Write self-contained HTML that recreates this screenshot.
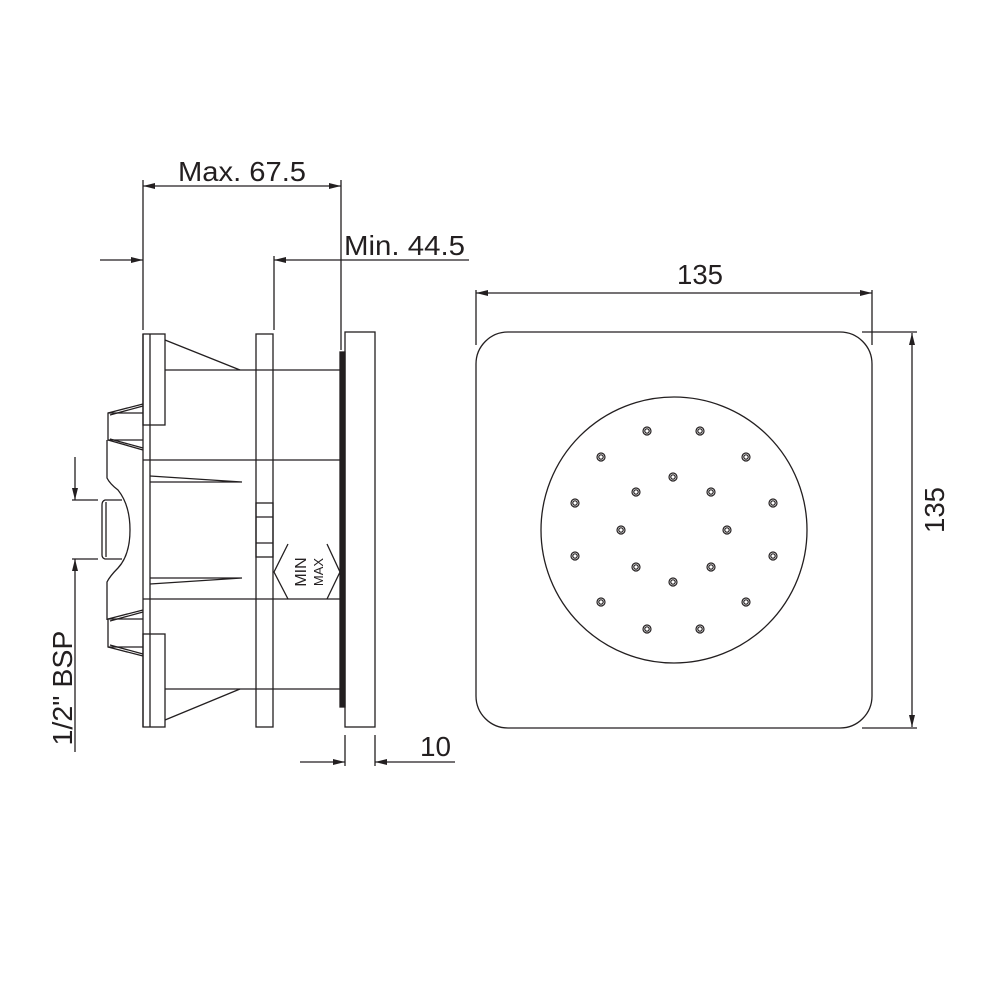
<!DOCTYPE html>
<html><head><meta charset="utf-8"><style>
html,body{margin:0;padding:0;background:#fff;}
svg{display:block;}
text{font-family:"Liberation Sans",sans-serif;fill:#231f20;}
</style></head><body>
<svg width="1000" height="1000" viewBox="0 0 1000 1000" xmlns="http://www.w3.org/2000/svg">
<defs>
<marker id="a" viewBox="0 0 12 6" refX="12" refY="3" markerWidth="12" markerHeight="6" orient="auto" markerUnits="userSpaceOnUse"><path d="M0,0 L12,3 L0,6 Z" fill="#231f20"/></marker>
</defs>
<g stroke="#231f20" stroke-width="1.3" fill="none">
<line x1="143" y1="180" x2="143" y2="330"/>
<line x1="341" y1="180" x2="341" y2="350"/>
<line x1="170" y1="186" x2="143" y2="186" marker-end="url(#a)"/>
<line x1="310" y1="186" x2="341" y2="186" marker-end="url(#a)"/>
<line x1="170" y1="186" x2="310" y2="186"/>
<line x1="100" y1="260" x2="143" y2="260" marker-end="url(#a)"/>
<line x1="274" y1="256" x2="274" y2="330"/>
<line x1="469" y1="260" x2="274" y2="260" marker-end="url(#a)"/>
<line x1="143" y1="334" x2="143" y2="727"/>
<line x1="150" y1="334" x2="150" y2="727"/>
<rect x="143" y="334" width="22" height="91"/>
<rect x="143" y="634" width="22" height="93"/>
<line x1="165" y1="340" x2="240" y2="370"/>
<line x1="165" y1="720" x2="240" y2="689"/>
<line x1="165" y1="370" x2="340" y2="370"/>
<line x1="165" y1="689" x2="340" y2="689"/>
<line x1="143" y1="460" x2="340" y2="460"/>
<line x1="143" y1="599" x2="340" y2="599"/>
<rect x="256" y="334" width="17" height="393"/>
<rect x="256" y="503" width="17" height="54"/>
<line x1="256" y1="517" x2="273" y2="517"/>
<line x1="256" y1="543" x2="273" y2="543"/>
<rect x="340" y="352" width="5" height="355" fill="#231f20"/>
<rect x="345" y="332" width="30" height="395"/>
<path d="M150,476 L242,482 L150,482"/>
<path d="M150,578 L242,578 L150,584"/>
<path d="M288,544 L274,572 L288,599"/>
<path d="M327,544 L340,572 L327,599"/>
<path d="M143,404 L108,413 L108,440 L143,450"/>
<path d="M143,406 L110,415 M143,448 L110,439"/>
<line x1="108" y1="413" x2="143" y2="413"/>
<line x1="108" y1="440" x2="143" y2="440"/>
<path d="M143,610 L108,619 L108,647 L143,656"/>
<path d="M143,612 L110,621 M143,654 L110,645"/>
<line x1="108" y1="619" x2="143" y2="619"/>
<line x1="108" y1="647" x2="143" y2="647"/>
<path d="M107,440 L107,478 Q110,484 118,490 Q130,505 130,530 Q130,555 118,568 Q110,576 107,582 L107,620"/>
<path d="M122,500 L105,500 Q102,501 102,505 L102,555 Q102,558 105,559 L122,559"/>
<line x1="106" y1="502" x2="106" y2="557"/>
<line x1="72" y1="500" x2="98" y2="500"/>
<line x1="72" y1="559" x2="98" y2="559"/>
<line x1="75" y1="457" x2="75" y2="500" marker-end="url(#a)"/>
<line x1="75" y1="752" x2="75" y2="559" marker-end="url(#a)"/>
<line x1="345" y1="735" x2="345" y2="766"/>
<line x1="375" y1="735" x2="375" y2="766"/>
<line x1="300" y1="762" x2="345" y2="762" marker-end="url(#a)"/>
<line x1="455" y1="762" x2="375" y2="762" marker-end="url(#a)"/>
<rect x="476" y="332" width="396" height="396" rx="32" ry="32"/>
<circle cx="674" cy="530" r="133"/>
<line x1="476" y1="290" x2="476" y2="345"/>
<line x1="872" y1="290" x2="872" y2="345"/>
<line x1="674" y1="293" x2="476" y2="293" marker-end="url(#a)"/>
<line x1="674" y1="293" x2="872" y2="293" marker-end="url(#a)"/>
<line x1="862" y1="332" x2="917" y2="332"/>
<line x1="862" y1="728" x2="917" y2="728"/>
<line x1="912" y1="530" x2="912" y2="333" marker-end="url(#a)"/>
<line x1="912" y1="530" x2="912" y2="727" marker-end="url(#a)"/>
</g>
<g stroke="#231f20" fill="none" stroke-width="1.2">
<g>
<circle cx="647" cy="431" r="4"/><circle cx="700" cy="431" r="4"/>
<circle cx="601" cy="457" r="4"/><circle cx="746" cy="457" r="4"/>
<circle cx="673" cy="477" r="4"/>
<circle cx="636" cy="492" r="4"/><circle cx="711" cy="492" r="4"/>
<circle cx="575" cy="503" r="4"/><circle cx="773" cy="503" r="4"/>
<circle cx="621" cy="530" r="4"/><circle cx="727" cy="530" r="4"/>
<circle cx="575" cy="556" r="4"/><circle cx="773" cy="556" r="4"/>
<circle cx="636" cy="567" r="4"/><circle cx="711" cy="567" r="4"/>
<circle cx="673" cy="582" r="4"/>
<circle cx="601" cy="602" r="4"/><circle cx="746" cy="602" r="4"/>
<circle cx="647" cy="629" r="4"/><circle cx="700" cy="629" r="4"/>
</g>
<g>
<circle cx="647" cy="431" r="2.2"/><circle cx="700" cy="431" r="2.2"/>
<circle cx="601" cy="457" r="2.2"/><circle cx="746" cy="457" r="2.2"/>
<circle cx="673" cy="477" r="2.2"/>
<circle cx="636" cy="492" r="2.2"/><circle cx="711" cy="492" r="2.2"/>
<circle cx="575" cy="503" r="2.2"/><circle cx="773" cy="503" r="2.2"/>
<circle cx="621" cy="530" r="2.2"/><circle cx="727" cy="530" r="2.2"/>
<circle cx="575" cy="556" r="2.2"/><circle cx="773" cy="556" r="2.2"/>
<circle cx="636" cy="567" r="2.2"/><circle cx="711" cy="567" r="2.2"/>
<circle cx="673" cy="582" r="2.2"/>
<circle cx="601" cy="602" r="2.2"/><circle cx="746" cy="602" r="2.2"/>
<circle cx="647" cy="629" r="2.2"/><circle cx="700" cy="629" r="2.2"/>
</g>
</g>
<text x="178" y="181" font-size="28" textLength="128" lengthAdjust="spacingAndGlyphs">Max. 67.5</text>
<text x="344" y="255" font-size="28" textLength="121" lengthAdjust="spacingAndGlyphs">Min. 44.5</text>
<text x="677" y="284" font-size="28" textLength="46" lengthAdjust="spacingAndGlyphs">135</text>
<text x="0" y="0" font-size="28" text-anchor="middle" textLength="46" lengthAdjust="spacingAndGlyphs" transform="translate(944,510) rotate(-90)">135</text>
<text x="420" y="756" font-size="28" textLength="31" lengthAdjust="spacingAndGlyphs">10</text>
<text x="0" y="0" font-size="28" text-anchor="middle" textLength="115" lengthAdjust="spacingAndGlyphs" transform="translate(72,688) rotate(-90)">1/2" BSP</text>
<text x="0" y="0" font-size="16" text-anchor="middle" transform="translate(306,572) rotate(-90)">MIN</text>
<text x="0" y="0" font-size="13" text-anchor="middle" transform="translate(323,572) rotate(-90)">MAX</text>
</svg>
</body></html>
